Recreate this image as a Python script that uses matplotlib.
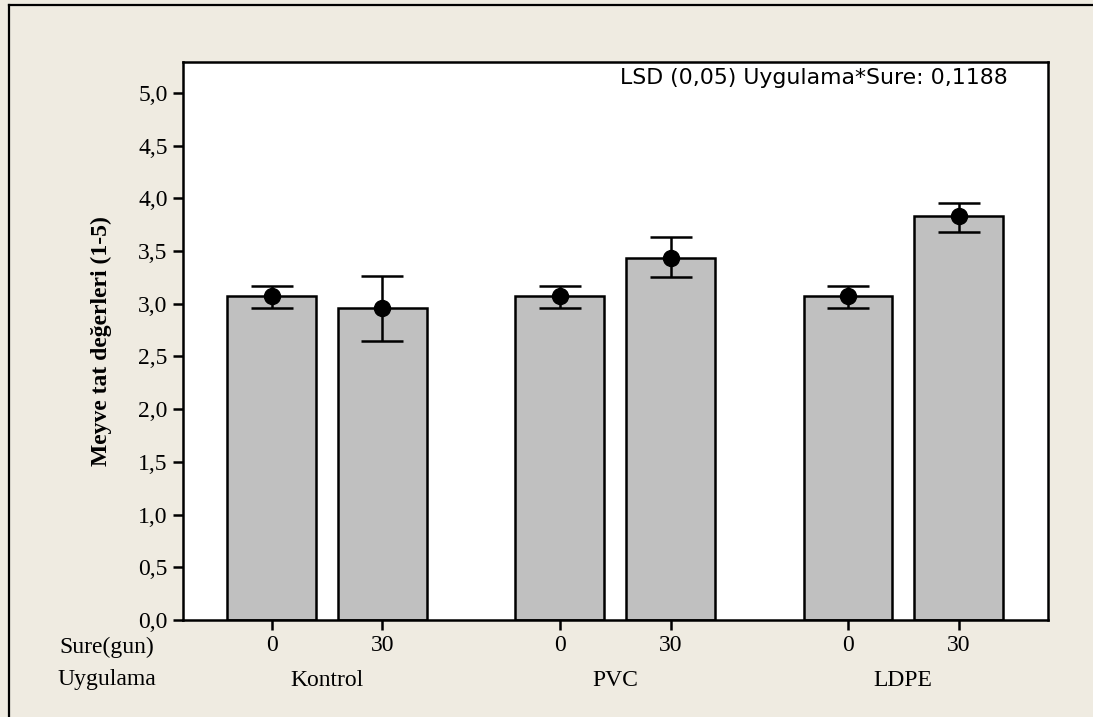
import numpy as np
import matplotlib
matplotlib.use("Agg")
import matplotlib.pyplot as plt
import matplotlib.transforms as mtransforms

# data
groups = ['Kontrol', 'PVC', 'LDPE']
days = ['0', '30']
means = [3.07, 2.96, 3.07, 3.43, 3.07, 3.83]
err_low = [2.96, 2.65, 2.96, 3.25, 2.96, 3.68]
err_high = [3.17, 3.26, 3.17, 3.63, 3.17, 3.96]
yticks = [0.0, 0.5, 1.0, 1.5, 2.0, 2.5, 3.0, 3.5, 4.0, 4.5, 5.0]
lsd_text = 'LSD (0,05) Uygulama*Sure: 0,1188'

bg = '#efebe1'
serif = ['Liberation Serif', 'DejaVu Serif']

fig = plt.figure(figsize=(10.93, 7.17), dpi=100, facecolor=bg)
W, H = 1093, 717
ax = fig.add_axes([183 / W, (H - 620) / H, (1048 - 183) / W, (620 - 62) / H])

# bar positions: two bars per group, gap between groups
pos = []
for g in range(len(groups)):
    for d in range(len(days)):
        pos.append(g * 2.6 + d)
pos = np.array(pos)
means = np.array(means)
yerr = np.array([means - np.array(err_low), np.array(err_high) - means])

ax.bar(pos, means, width=0.8, color='#c0c0c0', edgecolor='black', linewidth=1.8, zorder=2)
ax.errorbar(pos, means, yerr=yerr, fmt='o', color='black', ms=11.5,
            elinewidth=1.8, capsize=15, capthick=1.8, zorder=3)

ax.set_xlim(-0.80, 7.006)
ax.set_ylim(0, 5.294)
ax.set_yticks(yticks)
ax.set_yticklabels(['{:.1f}'.format(v).replace('.', ',') for v in yticks],
                   family=serif, fontsize=17)
ax.set_xticks(pos)
ax.set_xticklabels(days * len(groups), family=serif, fontsize=17)
ax.tick_params(axis='both', direction='out', length=7, width=1.8, pad=4)
for sp in ax.spines.values():
    sp.set_linewidth(1.8)

ax.set_ylabel('Meyve tat değerleri (1-5)', family=serif, fontsize=17,
              fontweight='bold', labelpad=19)

# group labels under the day ticks
trans = mtransforms.blended_transform_factory(ax.transData, fig.transFigure)
for g, name in enumerate(groups):
    ax.text(g * 2.6 + 0.5, 1 - 680 / H, name, transform=trans, ha='center', va='center',
            family=serif, fontsize=17)
fig.text(107 / W, 1 - 647 / H, 'Sure(gun)', ha='center', va='center', family=serif, fontsize=17)
fig.text(107 / W, 1 - 680 / H, 'Uygulama', ha='center', va='center', family=serif, fontsize=17)

ax.text(0.953, 0.99, lsd_text, transform=ax.transAxes, ha='right', va='top',
        family='DejaVu Sans', fontsize=15.8)

# outer frame (only left and top edges are visible in the picture)
fig.add_artist(plt.Line2D([8.5 / W, 8.5 / W], [0, 1 - 4.5 / H], transform=fig.transFigure,
                          color='black', lw=1.6))
fig.add_artist(plt.Line2D([8.5 / W, 1], [1 - 4.5 / H, 1 - 4.5 / H], transform=fig.transFigure,
                          color='black', lw=1.6))

fig.savefig('out.png', dpi=100, facecolor=bg)
